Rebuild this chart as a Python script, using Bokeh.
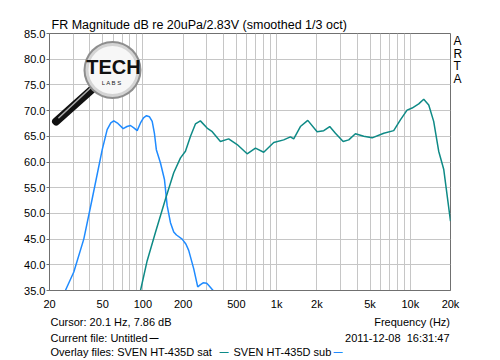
from bokeh.plotting import figure
from bokeh.layouts import column
from bokeh.models import Label, FixedTicker, PrintfTickFormatter, Range1d, LinearAxis
from bokeh.embed import file_html
from bokeh.resources import INLINE

# ---- data ----
sub_freq = [25.0, 26.3, 30.4, 36.1, 41.7, 49.6, 54.0, 57.5, 60.5, 65.0, 71.2, 76.0, 80.7, 86.0,
            90.6, 95.9, 101.0, 106.3, 112.0, 117.3, 122.0, 126.0, 135.3, 144.9, 151.8, 160.7,
            170.0, 178.2, 196.6, 210.0, 220.0, 240.0, 257.0, 268.0, 282.0, 300.0, 310.0, 335.0]
sub_db = [34.0, 35.0, 38.6, 45.0, 52.8, 62.4, 66.3, 67.6, 68.0, 67.5, 66.5, 66.9, 67.1, 66.6,
          66.1, 67.6, 68.6, 69.0, 68.8, 67.9, 65.5, 62.4, 59.8, 56.6, 51.5, 48.2,
          46.4, 45.8, 45.0, 44.0, 42.8, 39.2, 35.7, 36.1, 36.5, 36.4, 36.0, 35.0]

sat_freq = [95.9, 107.6, 124.0, 147.5, 170.0, 191.0, 208.0, 227.0, 247.0, 269.0, 302.0, 330.0,
            380.0, 438.0, 507.0, 602.0, 695.0, 801.0, 952.0, 1130.0, 1269.0, 1343.0, 1507.0,
            1711.0, 2010.0, 2253.0, 2497.0, 2755.0, 3147.0, 3465.0, 3888.0, 4487.0, 5185.0,
            6336.0, 7519.0, 8437.0, 9465.0, 10320.0, 11570.0, 12610.0, 13750.0, 14970.0,
            16320.0, 17790.0, 20000.0]
sat_db = [35.0, 40.8, 46.3, 52.8, 57.9, 60.8, 62.1, 65.0, 67.4, 68.0, 66.6, 65.9,
          64.0, 64.5, 63.4, 61.6, 62.7, 61.9, 63.8, 64.3, 64.9, 64.5, 66.9,
          68.1, 65.9, 66.1, 66.9, 65.6, 64.0, 64.3, 65.5, 65.0, 64.7,
          65.6, 66.1, 68.2, 70.1, 70.5, 71.3, 72.2, 71.1, 67.9,
          62.1, 58.6, 48.5]

x_tick_values = [20, 50, 100, 200, 500, 1000, 2000, 5000, 10000, 20000]
x_tick_labels = ["20", "50", "100", "200", "500", "1k", "2k", "5k", "10k", "20k"]
x_grid_values = [20, 30, 40, 50, 60, 70, 80, 90, 100, 200, 300, 400, 500, 600, 700, 800, 900,
                 1000, 2000, 3000, 4000, 5000, 6000, 7000, 8000, 9000, 10000, 20000]
y_tick_values = [35, 40, 45, 50, 55, 60, 65, 70, 75, 80, 85]

title_text = "FR Magnitude dB re 20uPa/2.83V (smoothed 1/3 oct)"
side_letters = ["A", "R", "T", "A"]
side_letter_pos = [83.55, 81.1, 78.7, 76.2]
cursor_text = "Cursor: 20.1 Hz, 7.86 dB"
xlabel_text = "Frequency (Hz)"
current_text = "Current file: Untitled"
date_text = "2011-12-08 \u00a016:31:47"
overlay_text = "Overlay files: SVEN HT-435D sat"
overlay_text2 = "SVEN HT-435D sub"

SAT_COLOR = "#0e8a86"
SUB_COLOR = "#1f8bff"
GRID = "#c6c6c6"
FRAME = "#707070"
FONT = "Liberation Sans"

p = figure(width=500, height=312, x_axis_type="log", output_backend="svg",
           toolbar_location=None, x_range=Range1d(20, 20000), y_range=Range1d(35, 85),
           min_border_left=49, min_border_right=50, min_border_top=33, min_border_bottom=20)
p.title.text = title_text
p.title.align = "left"
p.title.offset = 2
p.title.standoff = 3
p.title.text_font = FONT
p.title.text_font_size = "12.5px"
p.title.text_font_style = "normal"
p.title.text_color = "#000000"
p.background_fill_color = "white"
p.border_fill_color = "white"
p.outline_line_color = FRAME
p.outline_line_width = 1

# axes
p.xaxis.ticker = FixedTicker(ticks=x_tick_values)
p.xaxis.major_label_overrides = {v: l for v, l in zip(x_tick_values, x_tick_labels)}
p.xaxis.major_tick_line_color = None
p.xaxis.minor_tick_line_color = None
p.xaxis.major_tick_out = 0
p.xaxis.major_tick_in = 0
p.xaxis.major_label_standoff = 7
p.xaxis.axis_line_color = FRAME
p.yaxis.ticker = FixedTicker(ticks=y_tick_values)
p.yaxis.formatter = PrintfTickFormatter(format="%.1f")
p.yaxis.major_tick_out = 3
p.yaxis.major_tick_in = 0
p.yaxis.major_tick_line_color = FRAME
p.yaxis.minor_tick_line_color = None
p.yaxis.major_label_standoff = 1
p.yaxis.axis_line_color = FRAME
for ax in (p.xaxis, p.yaxis):
    ax.major_label_text_font = FONT
    ax.major_label_text_font_size = "11px"
    ax.major_label_text_color = "#000000"

# "ARTA" stacked letters at the right side
side = LinearAxis(ticker=FixedTicker(ticks=side_letter_pos),
                  major_label_overrides={v: l for v, l in zip(side_letter_pos, side_letters)},
                  axis_line_color=None, major_tick_line_color=None, minor_tick_line_color=None,
                  major_tick_out=0, major_tick_in=0, major_label_standoff=3,
                  major_label_text_font=FONT, major_label_text_font_size="12px",
                  major_label_text_color="#000000")
p.add_layout(side, "right")

p.xgrid.ticker = FixedTicker(ticks=x_grid_values)
p.xgrid.grid_line_color = GRID
p.ygrid.ticker = FixedTicker(ticks=y_tick_values)
p.ygrid.grid_line_color = GRID

# logo (decoration)
lx, ly = 59.2, 77.9
p.line([41.9, 22.4], [74.2, 67.9], line_width=8, line_color="#111111", line_cap="round")
p.line([40.5, 23.5], [74.4, 68.6], line_width=1.5, line_color="#aaaaaa", line_cap="round")
p.scatter([lx], [ly], size=58, marker="circle", fill_color="#8e8e8e", line_color=None)
p.scatter([lx], [ly], size=54, marker="circle", fill_color="#d4d4d4", line_color=None)
p.scatter([lx], [ly], size=48, marker="circle", fill_color="#f7f7f7", line_color=None)
p.add_layout(Label(x=64, y=224, x_units="screen", y_units="screen", text="TECH",
                   text_font=FONT, text_font_style="bold",
                   text_font_size="20px", text_align="center", text_baseline="middle",
                   text_color="#111111"))
p.add_layout(Label(x=65, y=208, x_units="screen", y_units="screen", text="L  A  B  S",
                   text_font=FONT, text_font_size="6px", text_align="center",
                   text_baseline="middle", text_color="#222222"))

# curves
p.line(sub_freq, sub_db, line_color=SUB_COLOR, line_width=1.5)
p.line(sat_freq, sat_db, line_color=SAT_COLOR, line_width=1.5)

# bottom info strip (its frame lines up with the chart frame, 49..450 px)
b = figure(width=500, height=48, output_backend="svg", toolbar_location=None,
           x_range=Range1d(49, 450), y_range=Range1d(48, 0),
           min_border_left=49, min_border_right=50, min_border_top=0, min_border_bottom=0)
b.axis.visible = False
b.grid.visible = False
b.outline_line_color = None
b.title.visible = False


def lab(x, y, text, align="left", color="#000000", size="11px", style="normal"):
    b.add_layout(Label(x=x, y=y, text=text, text_font=FONT, text_font_size=size,
                       text_align=align, text_baseline="top", text_color=color,
                       text_font_style=style))


lab(50, 3, cursor_text)
lab(449.5, 3, xlabel_text, align="right")
lab(50, 19, current_text)
lab(449, 19, date_text, align="right")
lab(50, 33, overlay_text)
lab(233, 33, overlay_text2)
lab(149, 20, "\u2014", size="9px", style="bold")
lab(219, 34, "\u2014", color=SAT_COLOR, size="9px", style="bold")
lab(333, 34, "\u2014", color=SUB_COLOR, size="9px", style="bold")

layout = column(p, b, spacing=0)
open("out.html", "w").write(file_html(layout, INLINE))
